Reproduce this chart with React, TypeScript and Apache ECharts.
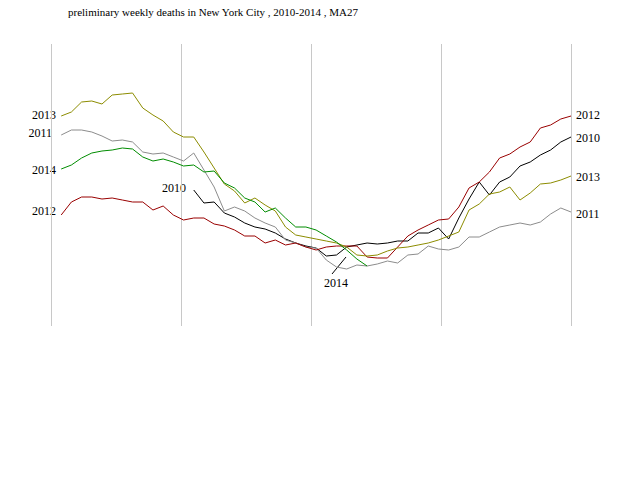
import { useEffect, useRef } from 'react';
import * as echarts from 'echarts';

// weekly values (plotted on an inverted scale)
const y2010 = [190, 203, 202, 213, 217, 223, 227, 229, 233, 239, 243, 246, 248, 256, 255, 247, 245, 243, 244, 243, 241, 241, 233, 233, 228, 239, 218, 199, 182, 195, 182, 177, 166, 162, 155, 150, 142, 137];
const y2011 = [135, 130, 130, 132, 136, 141, 140, 142, 152, 154, 153, 157, 161, 153, 170, 187, 211, 207, 211, 218, 223, 227, 240, 243, 247, 248, 260, 267, 269, 265, 266, 264, 261, 263, 255, 254, 246, 249, 250, 247, 237, 237, 232, 227, 225, 223, 225, 222, 214, 208, 212];
const y2012 = [215, 202, 197, 197, 199, 198, 200, 202, 202, 210, 206, 215, 220, 218, 218, 224, 226, 230, 236, 236, 243, 240, 245, 243, 247, 250, 247, 246, 246, 246, 257, 258, 258, 247, 236, 230, 225, 220, 219, 207, 188, 182, 172, 158, 154, 147, 142, 128, 125, 119, 116];
const y2013 = [116, 112, 102, 101, 104, 95, 94, 93, 108, 115, 121, 132, 137, 137, 152, 168, 184, 191, 203, 198, 205, 211, 227, 235, 237, 239, 241, 243, 247, 255, 256, 255, 251, 248, 247, 245, 243, 240, 236, 232, 210, 204, 194, 192, 187, 200, 193, 184, 183, 180, 176];
const y2014 = [169, 165, 158, 153, 151, 150, 148, 149, 157, 161, 159, 162, 166, 165, 172, 171, 183, 188, 198, 202, 212, 208, 218, 227, 227, 230, 236, 242, 250, 259, 266];

const years = [
  { name: '2010', data: y2010, start: 14, color: '#000000' },
  { name: '2011', data: y2011, start: 1, color: '#8c8c8c' },
  { name: '2012', data: y2012, start: 1, color: '#990000' },
  { name: '2013', data: y2013, start: 1, color: '#8c8c00' },
  { name: '2014', data: y2014, start: 1, color: '#008c00' },
];

const font = 'Liberation Serif';

export default function App() {
  const ref = useRef<HTMLDivElement>(null);

  useEffect(() => {
    if (!ref.current) return;
    const chart = echarts.init(ref.current, null, { renderer: 'svg' });

    const series: any[] = years.map((y) => ({
      name: y.name,
      type: 'line',
      data: y.data.map((v, i) => [y.start + i, v]),
      showSymbol: false,
      lineStyle: { width: 1, color: y.color },
      itemStyle: { color: y.color },
    }));

    const txt = (text: string, x: number, y: number, align = 'left') => ({
      type: 'text',
      x,
      y,
      style: { text, font: `12px "${font}"`, fill: '#000', textAlign: align, textVerticalAlign: 'middle' },
    });

    chart.setOption({
      animation: false,
      grid: { left: 51, right: 69, top: 44, bottom: 154 },
      xAxis: {
        type: 'value',
        min: 0,
        max: 51,
        interval: 12.75,
        axisLine: { show: false },
        axisTick: { show: false },
        axisLabel: { show: false },
        splitLine: { show: true, lineStyle: { color: '#c8c8c8', width: 1 } },
      },
      yAxis: {
        type: 'value',
        inverse: true,
        min: 44,
        max: 326,
        axisLine: { show: false },
        axisTick: { show: false },
        axisLabel: { show: false },
        splitLine: { show: false },
      },
      series,
      graphic: [
        { type: 'text', x: 68, y: 12, style: { text: 'preliminary weekly deaths in New York City , 2010-2014 , MA27', font: `11px "${font}"`, fill: '#000', textVerticalAlign: 'middle' } },
        txt('2013', 56, 115, 'right'),
        txt('2011', 52, 133, 'right'),
        txt('2014', 56, 170, 'right'),
        txt('2012', 56, 211, 'right'),
        txt('2010', 186, 188, 'right'),
        txt('2014', 336, 283, 'center'),
        { type: 'line', shape: { x1: 332, y1: 274, x2: 346, y2: 257 }, style: { stroke: '#000', lineWidth: 1 } },
        txt('2012', 576, 115),
        txt('2010', 576, 138),
        txt('2013', 576, 177),
        txt('2011', 576, 214),
      ],
    });

    return () => chart.dispose();
  }, []);

  return <div ref={ref} style={{ position: 'absolute', left: 0, top: 0, width: 640, height: 480 }} />;
}
